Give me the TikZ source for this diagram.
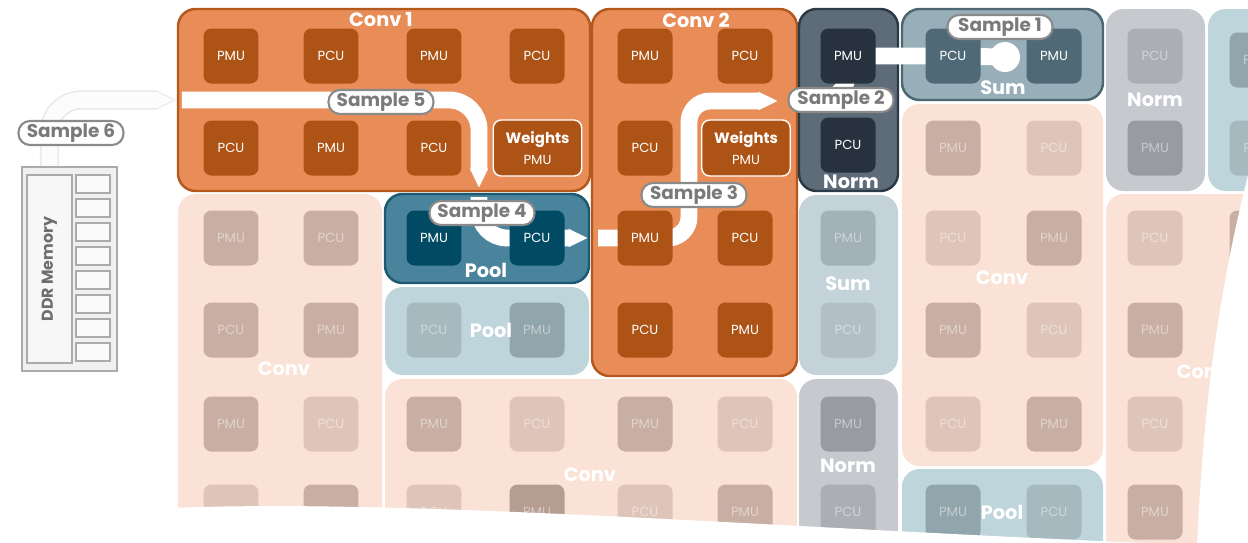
\documentclass[tikz,border=0pt]{standalone}
\usepackage{fontspec}
\setmainfont{Poppins}
\usepackage{tikz}
\usetikzlibrary{
  arrows.meta,
  positioning,
  fit,
  backgrounds
}
\usepackage{xcolor}
\definecolor{convfill}{HTML}{E98D58}
\definecolor{convedge}{HTML}{B5581D}
\definecolor{convunit}{HTML}{AD5316}
\definecolor{poolfill}{HTML}{4A849C}
\definecolor{pooledge}{HTML}{1C5A71}
\definecolor{poolunit}{HTML}{004B63}
\definecolor{normfill}{HTML}{5E6B79}
\definecolor{normedge}{HTML}{2C3947}
\definecolor{normunit}{HTML}{28323F}
\definecolor{sumfill}{HTML}{98AFBA}
\definecolor{sumedge}{HTML}{4C6672}
\definecolor{sumunit}{HTML}{4F6A76}
\definecolor{fconv}{HTML}{FAE2D6}
\definecolor{fconvmu}{HTML}{C9AFA3}
\definecolor{fconvcu}{HTML}{DFC5B9}
\definecolor{fconvdk}{HTML}{B59D92}
\definecolor{fpool}{HTML}{BFD5DC}
\definecolor{fpoolmu}{HTML}{91A6AC}
\definecolor{fpoolcu}{HTML}{A5B9BF}
\definecolor{fsum}{HTML}{C4D3D9}
\definecolor{fsummu}{HTML}{A3B2B8}
\definecolor{fsumcu}{HTML}{B2C0C6}
\definecolor{fnorm}{HTML}{C6CACF}
\definecolor{fnormmu}{HTML}{989CA1}
\definecolor{fnormcu}{HTML}{ABAFB4}
\definecolor{tagline}{HTML}{8A8A8A}
\definecolor{tagtext}{HTML}{7A7A7A}
\definecolor{ddrline}{HTML}{ABABAB}
\definecolor{ddrtext}{HTML}{6E6E6E}
\definecolor{ghostedge}{HTML}{EAEAEA}
\definecolor{ghostfill}{HTML}{FCFCFC}
\tikzset{
  tile/.style={
    rectangle, fill=#1, rounded corners=4.5pt,
    minimum width=1.1cm, minimum height=1.1cm, inner sep=0pt,
    font=\fontsize{7.5}{9}\selectfont, text=white
  },
  ghost/.style={tile=#1, text=white!45!#1},
  weights/.style={
    tile=convunit, draw=white, line width=0.8pt,
    minimum width=1.77cm, minimum height=1.12cm,
    align=center, font=\fontsize{7.5}{12}\selectfont
  },
  block/.style={rectangle, fill=#1, rounded corners=10pt, inner sep=0pt},
  liveblock/.style 2 args={block=#1, draw=#2, line width=1.4pt},
  blocktitle/.style={text=white, inner sep=0pt, font=\fontsize{11}{13}\selectfont\bfseries},
  tag/.style={
    rectangle, rounded corners=6.5pt, draw=tagline, line width=1.2pt,
    fill=white, text=tagtext, minimum width=2.1cm, minimum height=0.48cm,
    inner sep=1pt, font=\fontsize{10.5}{12}\selectfont\bfseries
  },
  flow/.style={draw=white, line width=9.6pt, rounded corners=#1},
  flow/.default=16pt,
  pointed/.style={-{Triangle[length=11pt, width=9.6pt]}},
  ghostrim/.style={draw=ghostedge, line width=11pt, rounded corners=18pt, -{Triangle[length=13pt, width=11pt]}},
  ghostflow/.style={draw=ghostfill, line width=9pt, rounded corners=18pt, shorten >=1.5pt, -{Triangle[length=10.5pt, width=9pt]}},
  ddrcase/.style={rectangle, draw=ddrline, fill=black!6, line width=1.4pt, inner sep=0pt},
  ddrbank/.style={rectangle, draw=ddrline, fill=black!3, line width=0.9pt, inner sep=0pt},
  slot/.style={rectangle, draw=ddrline, fill=black!2, line width=0.9pt, minimum width=0.68cm, minimum height=0.36cm, inner sep=0pt},
}
\begin{document}
\begin{tikzpicture}[x=0.02cm, y=-0.02cm]
\useasboundingbox (0,0) rectangle (1248,542);

% Stage regions
\begin{scope}[on background layer]
\node[liveblock={convfill}{convedge}, fit={(178,9) (590,191)}] (conv1) {};
\node[liveblock={convfill}{convedge}, fit={(592,9) (797,376)}] (conv2) {};
\node[liveblock={poolfill}{pooledge}, fit={(385,194) (589,283)}] (pool) {};
\node[liveblock={normfill}{normedge}, fit={(799,9) (898,191)}] (norm) {};
\node[liveblock={sumfill}{sumedge}, fit={(902,9) (1103,100)}] (sum) {};
\node[block=fconv, fit={(178,194) (382,570)}] (convA) {};
\node[block=fpool, fit={(385,287) (589,375)}] (poolA) {};
\node[block=fconv, fit={(385,379) (797,570)}] (convB) {};
\node[block=fsum, fit={(799,195) (898,375)}] (sumA) {};
\node[block=fnorm, fit={(799,379) (898,570)}] (normA) {};
\node[block=fconv, fit={(902,104) (1103,466)}] (convC) {};
\node[block=fpool, fit={(902,469) (1103,570)}] (poolB) {};
\node[block=fnorm, fit={(1106,9) (1205,191)}] (normB) {};
\node[block=fpool, fit={(1208,9) (1320,191)}] (poolC) {};
\node[block=fconv, fit={(1106,194) (1320,570)}] (convD) {};
\end{scope}

% Conv 1
\node[tile=convunit] (c1pmuA) at (231,56) {PMU};
\node[tile=convunit] (c1pcuA) at (331,56) {PCU};
\node[tile=convunit] (c1pmuB) at (434,56) {PMU};
\node[tile=convunit] (c1pcuB) at (537,56) {PCU};
\node[tile=convunit] (c1pcuC) at (231,148) {PCU};
\node[tile=convunit] (c1pmuC) at (331,148) {PMU};
\node[tile=convunit] (c1pcuD) at (434,148) {PCU};
\node[weights] (c1wts) at (537.5,148) {{\fontsize{8.5}{10}\selectfont\bfseries Weights}\\PMU};
\node[blocktitle] (t-conv1) at (381,20) {Conv 1};

% Conv 2
\node[tile=convunit] (c2pmuA) at (645,56) {PMU};
\node[tile=convunit] (c2pcuA) at (745,56) {PCU};
\node[tile=convunit] (c2pcuB) at (645,148) {PCU};
\node[weights] (c2wts) at (746,148) {{\fontsize{8.5}{10}\selectfont\bfseries Weights}\\PMU};
\node[tile=convunit] (c2pmuB) at (645,238) {PMU};
\node[tile=convunit] (c2pcuC) at (745,238) {PCU};
\node[tile=convunit] (c2pcuD) at (645,330) {PCU};
\node[tile=convunit] (c2pmuC) at (745,330) {PMU};
\node[blocktitle] (t-conv2) at (696,20) {Conv 2};

% Pool, Norm, Sum
\node[tile=poolunit] (poolpmu) at (434,238) {PMU};
\node[tile=poolunit] (poolpcu) at (537,238) {PCU};
\node[blocktitle] (t-pool) at (486,270) {Pool};
\node[tile=normunit] (normpmu) at (848,56) {PMU};
\node[tile=normunit] (normpcu) at (848,145) {PCU};
\node[blocktitle] (t-norm) at (851,182) {Norm};
\node[tile=sumunit] (sumpcu) at (953,56) {PCU};
\node[tile=sumunit] (sumpmu) at (1054,56) {PMU};
\node[blocktitle] (t-sum) at (1003,88) {Sum};
\node[circle, fill=white, minimum size=0.6cm, inner sep=0pt] (spot) at (1005,57) {};

% Idle stages
\node[ghost=fconvmu] (aPMU1) at (231,238) {PMU};
\node[ghost=fconvmu] (aPCU1) at (331,238) {PCU};
\node[ghost=fconvmu] (aPCU2) at (231,330) {PCU};
\node[ghost=fconvmu] (aPMU2) at (331,330) {PMU};
\node[ghost=fconvmu] (aPMU3) at (231,424) {PMU};
\node[ghost=fconvcu] (aPCU3) at (331,424) {PCU};
\node[ghost=fconvcu] (aPCU4) at (231,512) {PCU};
\node[ghost=fconvmu] (aPMU4) at (331,512) {PMU};
\node[blocktitle] (t-convA) at (284,369) {Conv};

\node[ghost=fpoolcu] (bPCU1) at (434,330) {PCU};
\node[ghost=fpoolmu] (bPMU1) at (537,330) {PMU};
\node[blocktitle] (t-poolA) at (491,330) {Pool};

\node[ghost=fconvmu] (cPMU1) at (434,424) {PMU};
\node[ghost=fconvcu] (cPCU1) at (537,424) {PCU};
\node[ghost=fconvmu] (cPMU2) at (645,424) {PMU};
\node[ghost=fconvcu] (cPCU2) at (745,424) {PCU};
\node[ghost=fconvcu] (cPCU3) at (434,512) {PCU};
\node[ghost=fconvdk] (cPMU3) at (537,512) {PMU};
\node[ghost=fconvcu] (cPCU4) at (645,512) {PCU};
\node[ghost=fconvmu] (cPMU4) at (745,512) {PMU};
\node[blocktitle] (t-convB) at (590,475) {Conv};

\node[ghost=fsummu] (dPMU1) at (848,238) {PMU};
\node[ghost=fsumcu] (dPCU1) at (848,330) {PCU};
\node[blocktitle] (t-sumA) at (848,284) {Sum};
\node[ghost=fnormmu] (ePMU1) at (848,424) {PMU};
\node[ghost=fnormcu] (ePCU1) at (848,512) {PCU};
\node[blocktitle] (t-normA) at (848,466) {Norm};

\node[ghost=fconvmu] (fPMU1) at (953,148) {PMU};
\node[ghost=fconvcu] (fPCU1) at (1054,148) {PCU};
\node[ghost=fconvcu] (fPCU2) at (953,238) {PCU};
\node[ghost=fconvmu] (fPMU2) at (1054,238) {PMU};
\node[ghost=fconvmu] (fPMU3) at (953,330) {PMU};
\node[ghost=fconvcu] (fPCU3) at (1054,330) {PCU};
\node[ghost=fconvcu] (fPCU4) at (953,424) {PCU};
\node[ghost=fconvmu] (fPMU4) at (1054,424) {PMU};
\node[blocktitle] (t-convC) at (1002,278) {Conv};
\node[ghost=fpoolmu] (gPMU1) at (953,512) {PMU};
\node[ghost=fpoolcu] (gPCU1) at (1054,512) {PCU};
\node[blocktitle] (t-poolB) at (1002,512) {Pool};

\node[ghost=fnormcu] (hPCU1) at (1155,56) {PCU};
\node[ghost=fnormmu] (hPMU1) at (1155,148) {PMU};
\node[blocktitle] (t-normB) at (1155,100) {Norm};
\node[ghost=fpoolmu] (iPMU1) at (1257,60) {PMU};
\node[ghost=fpoolcu] (iPCU1) at (1257,148) {PCU};
\node[ghost=fconvcu] (jPCU1) at (1155,238) {PCU};
\node[ghost=fconvmu] (jPMU1) at (1257,238) {PMU};
\node[ghost=fconvmu] (jPMU2) at (1155,330) {PMU};
\node[ghost=fconvcu] (jPCU2) at (1155,424) {PCU};
\node[ghost=fconvmu] (jPMU3) at (1155,512) {PMU};
\node[blocktitle] (t-convD) at (1203,372) {Conv};

% DDR memory
\node[ddrcase, minimum width=1.9cm, minimum height=4.08cm] (ddr) at (69.5,269) {};
\node[ddrbank, minimum width=0.9cm, minimum height=3.76cm] (ddrbank) at (49.5,269) {};
\node[rotate=90, text=ddrtext, font=\fontsize{9}{10}\selectfont\bfseries] (ddrname) at (ddrbank) {DDR Memory};
\node[slot] (slot1) at (93,184) {};
\node[slot] (slot2) at (93,208) {};
\node[slot] (slot3) at (93,232) {};
\node[slot] (slot4) at (93,256) {};
\node[slot] (slot5) at (93,280) {};
\node[slot] (slot6) at (93,304) {};
\node[slot] (slot7) at (93,328) {};
\node[slot] (slot8) at (93,352) {};

% Sample flows
\begin{scope}[on background layer]
\coordinate (drop) at (479,188);
\coordinate (entry) at (479,197);
\coordinate (pushout) at (588,238);
\coordinate (enter) at (598,238);
\coordinate (rise) at (689,101);
\coordinate (reach) at (778,101);
\draw[ghostrim] (ddrbank.north) |- (conv1.west);
\draw[ghostflow] (ddrbank.north) |- (conv1.west);
\draw[flow=17pt, pointed] ([xshift=0.1cm]conv1.west) -| (drop);
\draw[flow=16pt, pointed] (entry) |- (poolpcu.center) -- (pushout);
\draw[flow=12pt, pointed] (enter) -- (c2pmuB.center) -| (rise) -- (reach);
\draw[flow] (norm.west) -| (normpmu.center);
\draw[flow=0pt] (normpmu.center) -- (sumpcu.center) -- (spot.center);
\end{scope}

% Sample labels
\node[tag] (s1) at (1000,27) {Sample 1};
\node[tag] (s2) at (841,100) {Sample 2};
\node[tag] (s3) at (694,195) {Sample 3};
\node[tag] (s4) at (482,213) {Sample 4};
\node[tag] (s5) at (381,102) {Sample 5};
\node[tag] (s6) at (71,133) {Sample 6};

% Torn edge
\fill[white] (170,508) .. controls (420,498) and (800,530) .. (1197,545)
  .. controls (1203,420) and (1215,300) .. (1252,160) -- (1330,160) -- (1330,600) -- (170,600) -- cycle;

\end{tikzpicture}
\end{document}
